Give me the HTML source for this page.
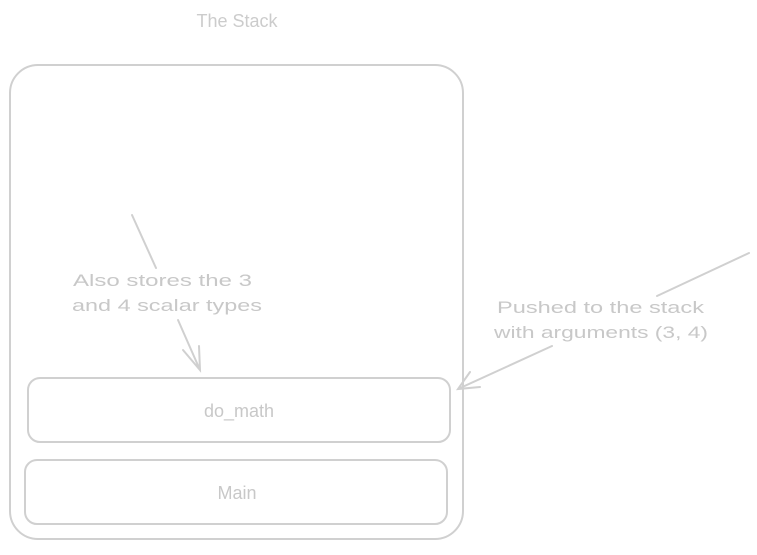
<!DOCTYPE html>
<html><head><style>
body{margin:0;width:757px;height:550px;background:#fff;overflow:hidden}
</style></head><body>
<svg width="757" height="550" xmlns="http://www.w3.org/2000/svg">
<g fill="none" stroke="#d0d0d0" stroke-width="2" stroke-linecap="round">
<rect x="10" y="65" width="453" height="474" rx="28"/>
<rect x="28" y="378" width="422" height="64" rx="12"/>
<rect x="25" y="460" width="422" height="64" rx="12"/>
<path d="M132 215 L156 268"/>
<path d="M178 320 L200 370 M183 350 L200 370 L199 346"/>
<path d="M749 253 L657 296"/>
<path d="M552 346 L458 389 M470 372 L458 389 L480 387"/>
</g>
<g fill="#c8c8c8" font-family="Liberation Sans, sans-serif">
<text x="237" y="27" font-size="18" text-anchor="middle" fill="#cccccc">The Stack</text>
<text x="239" y="417" font-size="18" text-anchor="middle">do_math</text>
<text x="237" y="499" font-size="18" text-anchor="middle">Main</text>
<text x="73" y="286" font-size="17" textLength="179" lengthAdjust="spacingAndGlyphs">Also stores the 3</text>
<text x="72" y="311" font-size="17" textLength="190" lengthAdjust="spacingAndGlyphs">and 4 scalar types</text>
<text x="497" y="313" font-size="17" textLength="207" lengthAdjust="spacingAndGlyphs">Pushed to the stack</text>
<text x="494" y="338" font-size="17" textLength="214" lengthAdjust="spacingAndGlyphs">with arguments (3, 4)</text>
</g>
</svg>
</body></html>
